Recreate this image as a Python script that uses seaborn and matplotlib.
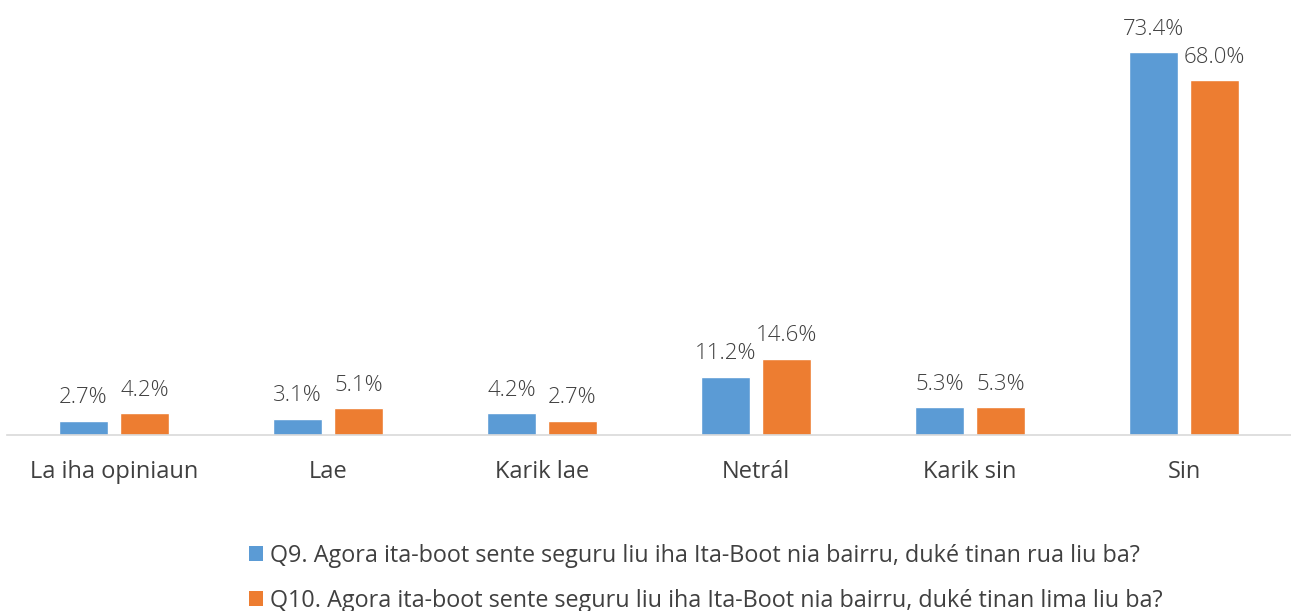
import matplotlib
matplotlib.use("Agg")
import matplotlib.pyplot as plt
import seaborn as sns
import pandas as pd
from matplotlib.patches import Patch

categories = ["La iha opiniaun", "Lae", "Karik lae", "Netrál", "Karik sin", "Sin"]
q9_values = [2.7, 3.1, 4.2, 11.2, 5.3, 73.4]
q10_values = [4.2, 5.1, 2.7, 14.6, 5.3, 68.0]
series_names = [
    "Q9. Agora ita-boot sente seguru liu iha Ita-Boot nia bairru, duké tinan rua liu ba?",
    "Q10. Agora ita-boot sente seguru liu iha Ita-Boot nia bairru, duké tinan lima liu ba?",
]
colors = ["#5B9BD5", "#ED7D31"]

df = pd.DataFrame({
    "category": categories * 2,
    "value": q9_values + q10_values,
    "series": [series_names[0]] * 6 + [series_names[1]] * 6,
})

sns.set_theme(style="white")
plt.rcParams["font.family"] = ["Open Sans", "DejaVu Sans"]
text_color = "#404040"

fig = plt.figure(figsize=(12.91, 6.11), dpi=100)
ax = fig.add_axes([7 / 1291, 1 - 435 / 611, 1284 / 1291, (435 - 17.6) / 611])

sns.barplot(data=df, x="category", y="value", hue="series", order=categories,
            hue_order=series_names, palette=colors, width=0.57, gap=0.21,
            saturation=1, ax=ax, legend=False)

for cont in ax.containers:
    ax.bar_label(cont, labels=[f"{v:.1f}%" for v in cont.datavalues],
                 padding=9, fontsize=16, color=text_color, fontweight="light")

ax.set_ylim(0, 80)
ax.set_xlim(-0.5, 5.5)
ax.set_xlabel("")
ax.set_ylabel("")
ax.set_yticks([])
for s in ["top", "right", "left"]:
    ax.spines[s].set_visible(False)
ax.spines["bottom"].set_color("#D9D9D9")
ax.spines["bottom"].set_linewidth(1.2)
ax.tick_params(axis="x", length=0, pad=18, labelsize=17, labelcolor=text_color)

handles = [Patch(facecolor=c, edgecolor="none") for c in colors]
fig.legend(handles, series_names, loc="upper left",
           bbox_to_anchor=(249 / 1291, 1 - 544 / 611), frameon=False,
           fontsize=16.8, labelcolor=text_color, handlelength=0.6, handleheight=0.6,
           handletextpad=0.3, labelspacing=0.88, borderaxespad=0, borderpad=0)

fig.savefig("out.png", dpi=100)
